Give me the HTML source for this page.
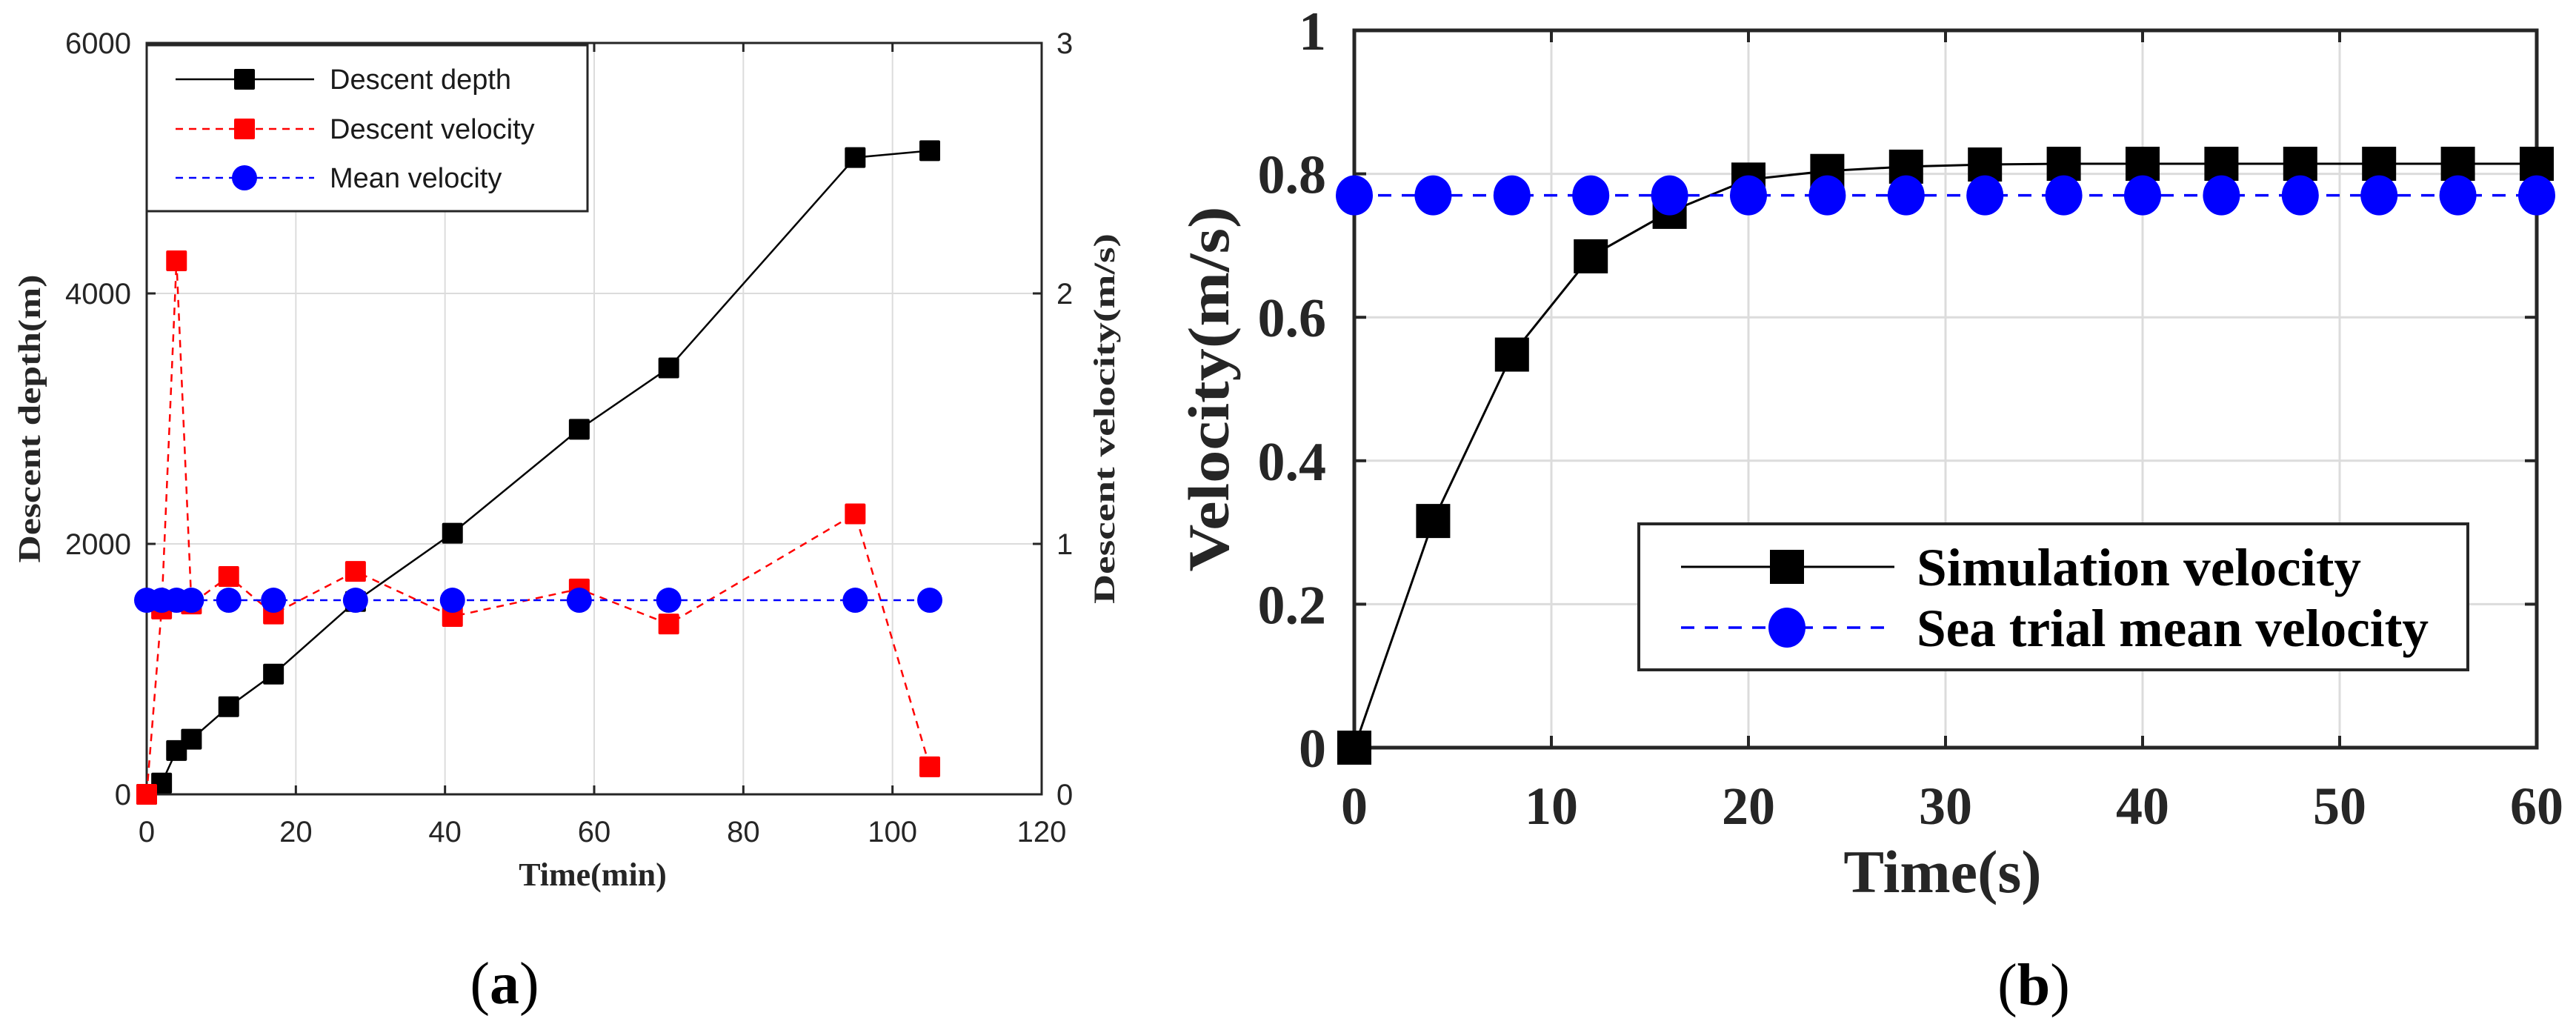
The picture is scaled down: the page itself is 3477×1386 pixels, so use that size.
<!DOCTYPE html>
<html><head><meta charset="utf-8"><style>
html,body{margin:0;padding:0;background:#fff;}
svg{display:block;}
.sans{font-family:"Liberation Sans",sans-serif;}
.serif{font-family:"Liberation Serif",serif;font-weight:bold;}
</style></head>
<body>
<svg id="fig" width="3477" height="1386" viewBox="0 0 3477 1386" xmlns="http://www.w3.org/2000/svg">
<rect width="3477" height="1386" fill="#fff"/>
<g id="chartA"></g>
<g id="chartB"></g>
</svg>
<script>
// ---- Chart (a) data ----
const aTimes = [0, 2, 4, 6, 11, 17, 28, 41, 58, 70, 95, 105];
const aDepth = [0, 90, 350, 440, 700, 960, 1540, 2085, 2915, 3405, 5085, 5140];
const aVelocity = [0, 0.74, 2.13, 0.76, 0.87, 0.72, 0.89, 0.71, 0.82, 0.68, 1.12, 0.11];
const aMeanVelocity = [0.775, 0.775, 0.775, 0.775, 0.775, 0.775, 0.775, 0.775, 0.775, 0.775, 0.775, 0.775];
const aXTicks = [0, 20, 40, 60, 80, 100, 120];
const aYTicks = [0, 2000, 4000, 6000];
const aY2Ticks = [0, 1, 2, 3];
// ---- Chart (b) data ----
const bTimes = [0, 4, 8, 12, 16, 20, 24, 28, 32, 36, 40, 44, 48, 52, 56, 60];
const bSim = [0, 0.316, 0.548, 0.685, 0.747, 0.792, 0.804, 0.810, 0.813, 0.814, 0.814, 0.814, 0.814, 0.814, 0.814, 0.814];
const bMean = [0.77, 0.77, 0.77, 0.77, 0.77, 0.77, 0.77, 0.77, 0.77, 0.77, 0.77, 0.77, 0.77, 0.77, 0.77, 0.77];
const bXTicks = [0, 10, 20, 30, 40, 50, 60];
const bYTicks = [0, 0.2, 0.4, 0.6, 0.8, 1];
const bYTickLabels = ["0", "0.2", "0.4", "0.6", "0.8", "1"];

const NS = "http://www.w3.org/2000/svg";
function mk(parent, tag, attrs, text) {
  const e = document.createElementNS(NS, tag);
  for (const k in attrs) e.setAttribute(k, attrs[k]);
  if (text !== undefined) e.textContent = text;
  parent.appendChild(e);
  return e;
}

// ===== Chart A =====
(function () {
  const g = document.getElementById('chartA');
  const L = 198, R = 1406, T = 58, B = 1072;
  const xs = v => L + (v - 0) / 120 * (R - L);
  const ys = v => B - v / 6000 * (B - T);
  const y2s = v => B - v / 3 * (B - T);
  // grid
  aXTicks.forEach(t => {
    if (t > 0 && t < 120) {
      const l = mk(g, 'line', {x1: xs(t), x2: xs(t), y1: T, y2: B, stroke: '#dcdcdc', 'stroke-width': 2});
      
      
    }
  });
  aYTicks.forEach(t => {
    if (t > 0 && t < 6000) {
      const l = mk(g, 'line', {x1: L, x2: R, y1: ys(t), y2: ys(t), stroke: '#dcdcdc', 'stroke-width': 2});
      
      
    }
  });
  // axes box
  const box = mk(g, 'rect', {x: L, y: T, width: R - L, height: B - T, fill: 'none', stroke: '#262626', 'stroke-width': 3});
  
  
  // ticks & labels
  aXTicks.forEach(t => {
    mk(g, 'line', {x1: xs(t), x2: xs(t), y1: B, y2: B - 12, stroke: '#262626', 'stroke-width': 3});
    mk(g, 'line', {x1: xs(t), x2: xs(t), y1: T, y2: T + 12, stroke: '#262626', 'stroke-width': 3});
    const tx = mk(g, 'text', {x: xs(t), y: 1136, 'text-anchor': 'middle', class: 'sans', 'font-size': 40, fill: '#262626'}, String(t));
    
    
  });
  aYTicks.forEach(t => {
    mk(g, 'line', {x1: L, x2: L + 12, y1: ys(t), y2: ys(t), stroke: '#262626', 'stroke-width': 3});
    const tx = mk(g, 'text', {x: 177, y: ys(t) + 14, 'text-anchor': 'end', class: 'sans', 'font-size': 40, fill: '#262626'}, String(t));
    
    
  });
  aY2Ticks.forEach(t => {
    mk(g, 'line', {x1: R, x2: R - 12, y1: y2s(t), y2: y2s(t), stroke: '#262626', 'stroke-width': 3});
    const tx = mk(g, 'text', {x: 1426, y: y2s(t) + 14, 'text-anchor': 'start', class: 'sans', 'font-size': 40, fill: '#262626'}, String(t));
    
    
  });
  // series: depth
  const dp = aTimes.map((t, i) => xs(t) + ',' + ys(aDepth[i])).join(' ');
  const dl = mk(g, 'polyline', {points: dp, fill: 'none', stroke: '#000', 'stroke-width': 2.5});
  
  
  // velocity
  const vp = aTimes.map((t, i) => xs(t) + ',' + y2s(aVelocity[i])).join(' ');
  const vl = mk(g, 'polyline', {points: vp, fill: 'none', stroke: '#ff0000', 'stroke-width': 2.5, 'stroke-dasharray': '10 8'});
  
  
  // mean
  const mp = aTimes.map((t, i) => xs(t) + ',' + y2s(aMeanVelocity[i])).join(' ');
  const ml = mk(g, 'polyline', {points: mp, fill: 'none', stroke: '#0000ff', 'stroke-width': 2.5, 'stroke-dasharray': '10 8'});
  
  
  aTimes.forEach((t, i) => {
    const s = mk(g, 'rect', {x: xs(t) - 14, y: ys(aDepth[i]) - 14, width: 28, height: 28, rx: 2, fill: '#000'});
    
    
  });
  aTimes.forEach((t, i) => {
    const s = mk(g, 'rect', {x: xs(t) - 14, y: y2s(aVelocity[i]) - 14, width: 28, height: 28, rx: 2, fill: '#ff0000'});
    
    
  });
  aTimes.forEach((t, i) => {
    const c = mk(g, 'circle', {cx: xs(t), cy: y2s(aMeanVelocity[i]), r: 17, fill: '#0000ff'});
    
    
  });
  // legend
  const lg = mk(g, 'g', {});
  
  
  mk(lg, 'rect', {x: 198, y: 61, width: 595, height: 224, fill: '#fff', stroke: '#262626', 'stroke-width': 3});
  const ents = [
    {y: 107, c: '#000', dash: null, m: 'sq', t: 'Descent depth'},
    {y: 174, c: '#ff0000', dash: '10 8', m: 'sq', t: 'Descent velocity'},
    {y: 240, c: '#0000ff', dash: '10 8', m: 'ci', t: 'Mean velocity'}
  ];
  ents.forEach(e => {
    const eg = mk(lg, 'g', {});
    
    
    const la = {x1: 237, x2: 424, y1: e.y, y2: e.y, stroke: e.c, 'stroke-width': 2.5};
    if (e.dash) la['stroke-dasharray'] = e.dash;
    mk(eg, 'line', la);
    if (e.m === 'sq') mk(eg, 'rect', {x: 316, y: e.y - 14, width: 28, height: 28, rx: 2, fill: e.c});
    else mk(eg, 'circle', {cx: 330, cy: e.y, r: 17, fill: e.c});
    mk(eg, 'text', {x: 445, y: e.y + 13, class: 'sans', 'font-size': 38, fill: '#1a1a1a'}, e.t);
  });
  // axis titles
  const xt = mk(g, 'text', {x: 800, y: 1195, 'text-anchor': 'middle', class: 'serif', 'font-size': 44, fill: '#262626'}, 'Time(min)');
  
  
  const yt = mk(g, 'text', {x: 0, y: 0, transform: 'translate(54,565) rotate(-90)', 'text-anchor': 'middle', class: 'serif', 'font-size': 42, fill: '#262626', textLength: 389, lengthAdjust: 'spacingAndGlyphs'}, 'Descent depth(m)');
  
  
  const y2t = mk(g, 'text', {x: 0, y: 0, transform: 'translate(1504,565) rotate(-90)', 'text-anchor': 'middle', class: 'serif', 'font-size': 40, fill: '#262626', textLength: 500, lengthAdjust: 'spacingAndGlyphs'}, 'Descent velocity(m/s)');
  
  
  const cap = mk(g, 'text', {x: 681, y: 1354, 'text-anchor': 'middle', 'font-family': '"Liberation Serif", serif', 'font-size': 80, fill: '#000'}, '');
  cap.innerHTML = '(<tspan font-weight="bold">a</tspan>)';
  
  
})();

// ===== Chart B =====
(function () {
  const g = document.getElementById('chartB');
  const L = 1828, R = 3424, T = 41, B = 1009;
  const xs = v => L + v / 60 * (R - L);
  const ys = v => B - v * (B - T);
  bXTicks.forEach(t => {
    if (t > 0 && t < 60) {
      const l = mk(g, 'line', {x1: xs(t), x2: xs(t), y1: T, y2: B, stroke: '#dcdcdc', 'stroke-width': 3});
      
      
    }
  });
  bYTicks.forEach(t => {
    if (t > 0 && t < 1) {
      const l = mk(g, 'line', {x1: L, x2: R, y1: ys(t), y2: ys(t), stroke: '#dcdcdc', 'stroke-width': 3});
      
      
    }
  });
  const box = mk(g, 'rect', {x: L, y: T, width: R - L, height: B - T, fill: 'none', stroke: '#262626', 'stroke-width': 5});
  
  
  bXTicks.forEach(t => {
    mk(g, 'line', {x1: xs(t), x2: xs(t), y1: B, y2: B - 16, stroke: '#262626', 'stroke-width': 4});
    mk(g, 'line', {x1: xs(t), x2: xs(t), y1: T, y2: T + 16, stroke: '#262626', 'stroke-width': 4});
    const tx = mk(g, 'text', {x: xs(t), y: 1112, 'text-anchor': 'middle', class: 'serif', 'font-size': 72, fill: '#262626'}, String(t));
    
    
  });
  bYTicks.forEach((t, i) => {
    mk(g, 'line', {x1: L, x2: L + 16, y1: ys(t), y2: ys(t), stroke: '#262626', 'stroke-width': 4});
    mk(g, 'line', {x1: R, x2: R - 16, y1: ys(t), y2: ys(t), stroke: '#262626', 'stroke-width': 4});
    const tx = mk(g, 'text', {x: 1790, y: ys(t) + 26, 'text-anchor': 'end', class: 'serif', 'font-size': 74, fill: '#262626'}, bYTickLabels[i]);
    
    
  });
  const sp = bTimes.map((t, i) => xs(t) + ',' + ys(bSim[i])).join(' ');
  const sl = mk(g, 'polyline', {points: sp, fill: 'none', stroke: '#000', 'stroke-width': 3});
  
  
  const mp = bTimes.map((t, i) => xs(t) + ',' + ys(bMean[i])).join(' ');
  const ml = mk(g, 'polyline', {points: mp, fill: 'none', stroke: '#0000ff', 'stroke-width': 3.5, 'stroke-dasharray': '18 14'});
  
  
  bTimes.forEach((t, i) => {
    const s = mk(g, 'rect', {x: xs(t) - 23, y: ys(bSim[i]) - 23, width: 46, height: 46, fill: '#000'});
    
    
  });
  bTimes.forEach((t, i) => {
    const c = mk(g, 'ellipse', {cx: xs(t), cy: ys(bMean[i]), rx: 25, ry: 27, fill: '#0000ff'});
    
    
  });
  // legend
  const lg = mk(g, 'g', {});
  
  
  mk(lg, 'rect', {x: 2212, y: 707, width: 1119, height: 197, fill: '#fff', stroke: '#262626', 'stroke-width': 4});
  const e1 = mk(lg, 'g', {});
  
  
  mk(e1, 'line', {x1: 2269, x2: 2557, y1: 765, y2: 765, stroke: '#000', 'stroke-width': 3});
  mk(e1, 'rect', {x: 2389, y: 742, width: 46, height: 46, fill: '#000'});
  mk(e1, 'text', {x: 2587, y: 790, class: 'serif', 'font-size': 72, fill: '#000', textLength: 600, lengthAdjust: 'spacingAndGlyphs'}, 'Simulation velocity');
  const e2 = mk(lg, 'g', {});
  
  
  mk(e2, 'line', {x1: 2269, x2: 2557, y1: 847, y2: 847, stroke: '#0000ff', 'stroke-width': 3.5, 'stroke-dasharray': '18 14'});
  mk(e2, 'ellipse', {cx: 2412, cy: 847, rx: 25, ry: 27, fill: '#0000ff'});
  mk(e2, 'text', {x: 2587, y: 872, class: 'serif', 'font-size': 72, fill: '#000', textLength: 691, lengthAdjust: 'spacingAndGlyphs'}, 'Sea trial mean velocity');
  const xt = mk(g, 'text', {x: 2622, y: 1204, 'text-anchor': 'middle', class: 'serif', 'font-size': 82, fill: '#262626'}, 'Time(s)');
  
  
  const yt = mk(g, 'text', {x: 0, y: 0, transform: 'translate(1658,525) rotate(-90)', 'text-anchor': 'middle', class: 'serif', 'font-size': 78, fill: '#262626', textLength: 493, lengthAdjust: 'spacingAndGlyphs'}, 'Velocity(m/s)');
  
  
  const cap = mk(g, 'text', {x: 2745, y: 1356, 'text-anchor': 'middle', 'font-family': '"Liberation Serif", serif', 'font-size': 80, fill: '#000'}, '');
  cap.innerHTML = '(<tspan font-weight="bold">b</tspan>)';
  
  
})();
</script>
</body></html>
